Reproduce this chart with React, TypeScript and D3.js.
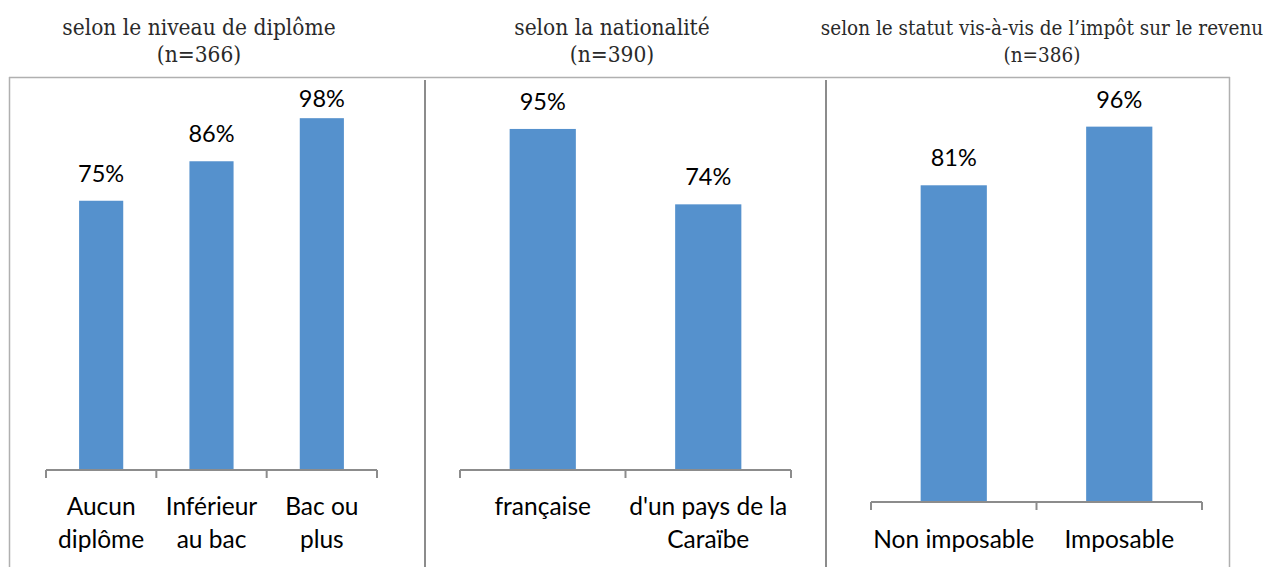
import React, { useEffect, useRef } from 'react';
import * as d3 from 'd3';

// panel titles
const titles = [
  'selon le niveau de diplôme',
  'selon la nationalité',
  'selon le statut vis-à-vis de l\u2019impôt sur le revenu',
];
const sampleSizes = ['(n=366)', '(n=390)', '(n=386)'];

// categories (each label split in lines)
const diplomeCats = [['Aucun', 'diplôme'], ['Inférieur', 'au bac'], ['Bac ou', 'plus']];
const nationaliteCats = [['française'], ["d'un pays de la", 'Caraïbe']];
const impotCats = [['Non imposable'], ['Imposable']];

// values (%)
const diplomeValues = [75, 86, 98];
const nationaliteValues = [95, 74];
const impotValues = [81, 96];

const BLUE = '#5591CD';
const GRAY = '#8c8c8c';

const App = () => {
  const ref = useRef<SVGSVGElement>(null);

  useEffect(() => {
    const svg = d3.select(ref.current);
    svg.selectAll('*').remove();

    const height = 567;
    const plotTop = 111;

    // panel layout
    const panels = [
      { cats: diplomeCats, values: diplomeValues, titleX: 199, titleSize: 22.5, axis: [46, 377], base: 470, labelY: 515 },
      { cats: nationaliteCats, values: nationaliteValues, titleX: 612, titleSize: 22.5, axis: [460, 791], base: 470, labelY: 515 },
      { cats: impotCats, values: impotValues, titleX: 1042, titleSize: 20.5, axis: [871, 1202], base: 502, labelY: 548 },
    ];

    // outer frame
    svg.append('line').attr('x1', 9).attr('x2', 1230).attr('y1', 77.5).attr('y2', 77.5)
      .attr('stroke', '#b0b0b0').attr('stroke-width', 1.5);
    svg.append('line').attr('x1', 9.5).attr('x2', 9.5).attr('y1', 77).attr('y2', height)
      .attr('stroke', '#b0b0b0').attr('stroke-width', 1.5);
    svg.append('line').attr('x1', 1229.5).attr('x2', 1229.5).attr('y1', 77).attr('y2', height)
      .attr('stroke', '#b0b0b0').attr('stroke-width', 1.5);
    [425, 826].forEach((x) => {
      svg.append('line').attr('x1', x).attr('x2', x).attr('y1', 80).attr('y2', height)
        .attr('stroke', GRAY).attr('stroke-width', 2);
    });

    panels.forEach((p, i) => {
      const g = svg.append('g');
      const names = p.cats.map((c) => c.join(' '));

      // titles
      [titles[i], sampleSizes[i]].forEach((t, k) => {
        g.append('text').attr('x', p.titleX).attr('y', 35 + k * 27)
          .attr('text-anchor', 'middle').attr('font-family', 'DejaVu Serif Condensed')
          .attr('font-size', p.titleSize).attr('fill', '#2a2a2a').text(t);
      });

      const x = d3.scaleBand().domain(names).range(p.axis as [number, number]).padding(0);
      const y = d3.scaleLinear().domain([0, 100]).range([p.base, plotTop]);
      const bw = x.bandwidth() * 0.4;

      // bars
      g.selectAll('.bar').data(p.values).enter().append('rect')
        .attr('x', (d, j) => x(names[j])! + (x.bandwidth() - bw) / 2)
        .attr('y', (d) => y(d))
        .attr('width', bw)
        .attr('height', (d) => y(0) - y(d))
        .attr('fill', BLUE);

      // value labels (clamped under the frame top, like Excel does)
      g.selectAll('.val').data(p.values).enter().append('text')
        .attr('x', (d, j) => x(names[j])! + x.bandwidth() / 2)
        .attr('y', (d) => Math.max(y(d) - 19, 107))
        .attr('text-anchor', 'middle')
        .attr('font-family', 'Lato').attr('font-size', 23.5).attr('fill', '#000')
        .text((d) => `${d}%`);

      // axis line and ticks at band edges
      g.append('line').attr('x1', p.axis[0]).attr('x2', p.axis[1])
        .attr('y1', p.base).attr('y2', p.base).attr('stroke', GRAY).attr('stroke-width', 2);
      const edges = [...names.map((n) => x(n)!), p.axis[1]];
      edges.forEach((e) => {
        g.append('line').attr('x1', e).attr('x2', e).attr('y1', p.base).attr('y2', p.base + 8)
          .attr('stroke', GRAY).attr('stroke-width', 2);
      });

      // category labels
      p.cats.forEach((lines, j) => {
        lines.forEach((ln, k) => {
          g.append('text')
            .attr('x', x(names[j])! + x.bandwidth() / 2)
            .attr('y', p.labelY + k * 33)
            .attr('text-anchor', 'middle')
            .attr('font-family', 'Lato').attr('font-size', 24.5).attr('fill', '#000')
            .text(ln);
        });
      });
    });
  }, []);

  return (
    <svg
      ref={ref}
      width={1266}
      height={567}
      style={{ position: 'absolute', left: 0, top: 0, background: '#fff' }}
    />
  );
};

export default App;
